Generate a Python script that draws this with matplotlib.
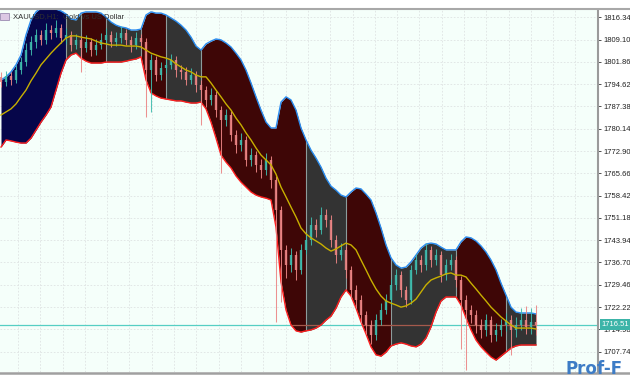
import numpy as np
import matplotlib
matplotlib.use("Agg")
import matplotlib.pyplot as plt
from matplotlib.path import Path
from matplotlib.patches import Rectangle
from matplotlib.lines import Line2D

# XAUUSD H1 candles
opens = [1797.0, 1795.3, 1797.3, 1796.0, 1799.2, 1801.8, 1805.7, 1808.3, 1810.6, 1809.0,
         1812.2, 1811.2, 1812.9, 1809.6, 1810.6, 1807.3, 1809.0, 1806.4, 1808.3, 1805.7,
         1807.3, 1809.0, 1810.6, 1808.3, 1809.6, 1811.2, 1809.0, 1807.3, 1809.6, 1808.3,
         1799.2, 1802.5, 1797.6, 1799.9, 1800.9, 1802.5, 1799.2, 1798.6, 1796.0, 1797.6,
         1794.4, 1792.7, 1789.5, 1791.1, 1786.2, 1783.0, 1784.6, 1778.1, 1774.9, 1776.5,
         1770.0, 1771.6, 1768.4, 1766.7, 1770.0, 1763.5, 1753.8, 1740.8, 1735.9, 1739.1,
         1734.3, 1740.8, 1744.0, 1748.9, 1747.3, 1752.1, 1750.5, 1744.0, 1739.1, 1740.8,
         1734.3, 1727.8, 1724.5, 1719.6, 1716.4, 1713.2, 1718.0, 1721.3, 1724.5, 1729.4,
         1732.6, 1727.8, 1724.5, 1734.3, 1737.5, 1735.9, 1740.8, 1737.5, 1739.1, 1732.6,
         1735.9, 1737.5, 1731.0, 1724.5, 1721.3, 1719.6, 1716.4, 1714.8, 1718.0, 1713.2,
         1714.8, 1716.4, 1718.0, 1714.8, 1716.4, 1718.0, 1715.8, 1717.4]
highs = [1798.5, 1799.0, 1798.6, 1800.8, 1803.5, 1807.9, 1810.4, 1812.7, 1812.1, 1814.6,
         1814.0, 1815.3, 1814.2, 1812.8, 1811.9, 1810.8, 1810.2, 1810.5, 1809.6, 1809.2,
         1811.3, 1812.9, 1811.8, 1811.5, 1813.4, 1812.5, 1810.4, 1811.6, 1810.9, 1809.5,
         1804.3, 1803.8, 1801.9, 1803.0, 1804.4, 1803.7, 1801.0, 1800.1, 1799.8, 1798.9,
         1795.9, 1794.0, 1793.4, 1792.3, 1787.6, 1786.5, 1785.9, 1779.6, 1778.7, 1777.8,
         1773.9, 1773.0, 1770.2, 1772.3, 1771.3, 1764.8, 1755.1, 1742.4, 1741.3, 1740.5,
         1742.6, 1746.2, 1751.5, 1750.7, 1754.8, 1754.0, 1752.0, 1745.5, 1743.0, 1742.0,
         1735.7, 1729.4, 1726.0, 1721.1, 1717.9, 1719.9, 1723.4, 1726.6, 1731.3, 1734.7,
         1734.0, 1729.2, 1736.0, 1739.6, 1739.2, 1742.9, 1742.1, 1741.2, 1740.4, 1737.8,
         1739.4, 1738.9, 1732.4, 1726.0, 1723.0, 1721.2, 1718.2, 1720.1, 1719.4, 1716.9,
         1718.5, 1720.4, 1719.5, 1719.0, 1721.8, 1722.5, 1722.0, 1722.9]
lows = [1793.8, 1794.0, 1794.2, 1795.1, 1797.9, 1800.6, 1804.2, 1806.5, 1807.2, 1807.8,
        1809.4, 1810.1, 1807.9, 1807.7, 1805.4, 1805.9, 1798.6, 1805.0, 1803.9, 1804.1,
        1806.0, 1807.6, 1806.6, 1806.9, 1808.0, 1807.3, 1805.2, 1806.1, 1806.4, 1784.0,
        1785.5, 1795.5, 1796.0, 1798.2, 1799.5, 1797.1, 1796.4, 1794.2, 1794.6, 1792.2,
        1781.5, 1787.2, 1787.8, 1784.0, 1765.8, 1780.9, 1776.0, 1772.4, 1773.0, 1767.9,
        1768.1, 1766.0, 1764.2, 1765.1, 1760.9, 1717.4, 1724.0, 1731.5, 1733.7, 1730.9,
        1732.8, 1739.3, 1742.5, 1745.1, 1745.9, 1748.2, 1741.8, 1736.6, 1737.4, 1731.8,
        1725.1, 1722.0, 1717.2, 1713.5, 1710.2, 1711.5, 1716.4, 1719.9, 1723.0, 1727.8,
        1725.5, 1722.3, 1723.1, 1732.8, 1733.7, 1734.4, 1735.3, 1735.9, 1730.4, 1731.0,
        1734.1, 1728.7, 1708.5, 1701.8, 1717.0, 1713.8, 1712.1, 1712.9, 1710.8, 1711.2,
        1712.9, 1714.6, 1706.5, 1712.6, 1714.9, 1713.6, 1713.4, 1713.2]
closes = [1795.3, 1797.3, 1796.0, 1799.2, 1801.8, 1805.7, 1808.3, 1810.6, 1809.0, 1812.2,
          1811.2, 1812.9, 1809.6, 1810.6, 1807.3, 1809.0, 1806.4, 1808.3, 1805.7, 1807.3,
          1809.0, 1810.6, 1808.3, 1809.6, 1811.2, 1809.0, 1807.3, 1809.6, 1808.3, 1799.2,
          1802.5, 1797.6, 1799.9, 1800.9, 1802.5, 1799.2, 1798.6, 1796.0, 1797.6, 1794.4,
          1792.7, 1789.5, 1791.1, 1786.2, 1783.0, 1784.6, 1778.1, 1774.9, 1776.5, 1770.0,
          1771.6, 1768.4, 1766.7, 1770.0, 1763.5, 1753.8, 1740.8, 1735.9, 1739.1, 1734.3,
          1740.8, 1744.0, 1748.9, 1747.3, 1752.1, 1750.5, 1744.0, 1739.1, 1740.8, 1734.3,
          1727.8, 1724.5, 1719.6, 1716.4, 1713.2, 1718.0, 1721.3, 1724.5, 1729.4, 1732.6,
          1727.8, 1724.5, 1734.3, 1737.5, 1735.9, 1740.8, 1737.5, 1739.1, 1732.6, 1735.9,
          1737.5, 1731.0, 1724.5, 1721.3, 1719.6, 1716.4, 1714.8, 1718.0, 1713.2, 1714.8,
          1716.4, 1718.0, 1714.8, 1716.4, 1718.0, 1715.8, 1717.4, 1716.5]

# channel indicator: upper / lower band and middle line
upper = [1796.0, 1797.0, 1798.6, 1800.9, 1804.1, 1810.6, 1815.5, 1818.1, 1819.4, 1820.0,
         1819.7, 1819.0, 1818.4, 1817.4, 1815.8, 1815.5, 1817.7, 1818.1, 1818.1, 1818.1,
         1817.7, 1816.4, 1814.8, 1813.8, 1813.2, 1812.9, 1812.2, 1812.2, 1812.5, 1817.1,
         1818.1, 1817.7, 1817.7, 1817.1, 1816.1, 1815.1, 1813.8, 1812.2, 1809.9, 1807.0,
         1805.7, 1807.7, 1808.6, 1809.3, 1809.0, 1808.0, 1806.7, 1804.7, 1802.5, 1799.2,
         1795.0, 1790.5, 1786.2, 1782.3, 1780.4, 1780.4, 1788.8, 1790.5, 1789.5, 1786.2,
         1780.4, 1776.5, 1773.2, 1770.6, 1767.7, 1764.1, 1761.5, 1760.2, 1758.6, 1758.0,
         1759.6, 1760.9, 1760.6, 1758.9, 1757.0, 1752.8, 1747.9, 1742.4, 1738.2, 1735.9,
         1734.9, 1735.2, 1736.9, 1739.1, 1741.4, 1742.7, 1743.0, 1742.7, 1741.7, 1740.8,
         1740.8, 1740.8, 1743.4, 1745.0, 1744.7, 1743.7, 1742.1, 1740.1, 1737.5, 1734.3,
         1730.0, 1726.1, 1722.2, 1720.6, 1720.3, 1720.3, 1720.3, 1720.0]
lower = [1774.2, 1776.5, 1776.2, 1775.8, 1775.5, 1775.5, 1777.1, 1779.7, 1782.3, 1784.6,
         1787.2, 1792.7, 1798.2, 1802.5, 1804.1, 1804.7, 1803.1, 1802.1, 1801.5, 1801.5,
         1801.5, 1801.8, 1801.8, 1801.8, 1801.8, 1802.1, 1802.5, 1802.8, 1803.5, 1796.0,
         1791.8, 1790.8, 1790.1, 1789.8, 1789.5, 1789.2, 1789.2, 1788.8, 1788.5, 1788.5,
         1788.8, 1786.6, 1782.3, 1777.1, 1771.6, 1769.3, 1767.4, 1764.8, 1762.8, 1761.2,
         1759.6, 1758.6, 1758.0, 1757.6, 1757.0, 1748.2, 1730.4, 1721.3, 1716.4, 1714.5,
         1714.1, 1714.5, 1714.8, 1715.4, 1716.4, 1718.0, 1719.3, 1721.9, 1725.5, 1727.8,
         1725.8, 1721.9, 1717.4, 1713.5, 1709.3, 1706.7, 1706.3, 1707.6, 1709.6, 1710.2,
         1710.6, 1710.2, 1709.6, 1709.3, 1710.2, 1712.2, 1715.8, 1720.6, 1724.2, 1725.5,
         1725.5, 1725.5, 1722.9, 1718.7, 1714.8, 1711.5, 1709.3, 1707.6, 1706.0, 1705.0,
         1706.3, 1707.6, 1708.9, 1709.6, 1709.9, 1709.9, 1709.9, 1709.9]
middle = [1784.6, 1785.6, 1786.6, 1788.2, 1790.5, 1792.7, 1795.7, 1798.2, 1800.9, 1802.8,
          1804.7, 1806.4, 1808.0, 1809.6, 1810.3, 1810.3, 1809.9, 1809.6, 1809.3, 1808.6,
          1808.0, 1807.7, 1807.3, 1807.3, 1807.3, 1807.0, 1807.0, 1807.0, 1806.7, 1805.7,
          1804.7, 1804.1, 1803.5, 1803.1, 1802.5, 1801.2, 1800.2, 1799.2, 1798.6, 1797.6,
          1797.0, 1797.0, 1795.0, 1792.7, 1790.5, 1788.2, 1786.2, 1783.6, 1781.4, 1778.8,
          1776.5, 1773.9, 1771.6, 1770.0, 1768.4, 1765.4, 1761.2, 1758.0, 1754.7, 1751.5,
          1747.9, 1746.0, 1744.7, 1743.7, 1742.7, 1741.4, 1740.4, 1741.1, 1742.1, 1743.0,
          1742.4, 1740.8, 1737.5, 1734.3, 1731.0, 1728.1, 1725.8, 1724.2, 1723.5, 1722.9,
          1722.2, 1722.6, 1723.5, 1724.8, 1727.1, 1729.4, 1731.0, 1731.7, 1732.3, 1733.0,
          1733.3, 1732.6, 1732.6, 1732.0, 1730.0, 1728.1, 1726.1, 1724.2, 1722.2, 1720.6,
          1719.0, 1717.7, 1716.4, 1715.4, 1715.4, 1715.4, 1715.4, 1715.1]

# band segments (bar index where each segment starts/ends) and their state
seg_edges = [0, 13, 16, 21, 28, 33, 40, 61, 69, 78, 91, 101, 107]
seg_kinds = ["up", "flat", "down", "flat", "down", "flat",
             "down", "flat", "down", "flat", "down", "flat"]

price_ticks = [1816.34, 1809.10, 1801.86, 1794.62, 1787.38, 1780.14, 1772.90, 1765.66,
               1758.42, 1751.18, 1743.94, 1736.70, 1729.46, 1722.22, 1714.98, 1707.74]
last_price = 1716.51
chart_title = "XAUUSD,H1:  Gold vs US Dollar"

kind_colors = {"up": "#06064a", "down": "#3e0606", "flat": "#333333"}

x = np.arange(len(closes))
o = np.array(opens)
h = np.array(highs)
l = np.array(lows)
c = np.array(closes)
up_b = np.array(upper)
lo_b = np.array(lower)

fig = plt.figure(figsize=(6.3, 3.8), dpi=100)
ax = fig.add_axes([0, 8 / 380, 598 / 630, 362 / 380])
ax.set_facecolor("#f5fffa")

ax.set_xlim(-0.2, 119.4)
ax.set_ylim(1701.13, 1818.71)

# dashed grid
for gx in np.arange(3.4, 119.4, 4.46):
    ax.axvline(gx, color="#dfe3e3", lw=0.6, ls=(0, (2, 2)), zorder=0)
for gy in price_ticks:
    ax.axhline(gy, color="#dfe3e3", lw=0.6, ls=(0, (2, 2)), zorder=0)

# current price line
ax.axhline(last_price, color="#56cfc3", lw=0.9, zorder=1)

# filled channel, coloured by segment
for i, kind in enumerate(seg_kinds):
    a, b = seg_edges[i], seg_edges[i + 1] + 1
    ax.fill_between(x[a:b], lo_b[a:b], up_b[a:b], color=kind_colors[kind],
                    lw=0, zorder=2)
inner = seg_edges[1:-1]
ax.vlines(x[inner], lo_b[inner], up_b[inner], color="#8c9c9c", lw=0.8, zorder=2.2)

# price line seen through the channel
band_path = Path(np.vstack([np.column_stack([x, up_b]),
                            np.column_stack([x[::-1], lo_b[::-1]])]))
through = ax.axhline(last_price, color="#a45a4c", lw=0.9, zorder=2.3)
through.set_clip_path(band_path, ax.transData)

ax.plot(x, up_b, color="#2a8cf0", lw=1.0, zorder=2.5)
ax.plot(x, lo_b, color="#ff1f1f", lw=1.0, zorder=2.5)

# candles
bull = c >= o
cols = np.where(bull, "#3fbcae", "#ec8585")
ax.vlines(x, l, h, colors=cols, lw=0.75, alpha=0.9, zorder=3)
ax.vlines(x, np.minimum(o, c), np.maximum(o, c), colors=cols, lw=1.7, alpha=0.9, zorder=3)

ax.plot(x, middle, color="#c8b000", lw=1.0, zorder=4)

# axes styling
ax.yaxis.tick_right()
ax.set_yticks(price_ticks)
ax.set_yticklabels([f"{v:.2f}" for v in price_ticks])
ax.tick_params(axis="y", direction="out", length=2.5, width=0.6, pad=1.5,
               labelsize=5.5, labelcolor="#222222", color="#333333")
for lab in ax.get_yticklabels():
    lab.set_fontfamily("Liberation Sans")
ax.set_xticks([])
for side in ["left", "top", "bottom"]:
    ax.spines[side].set_visible(False)
ax.spines["right"].set_color("#9a9a9a")
ax.spines["right"].set_linewidth(1.5)

# window frame lines
fig.add_artist(Line2D([0, 1], [1 - 9 / 380, 1 - 9 / 380], color="#a8a8a8", lw=1.5))
fig.add_artist(Line2D([0, 1], [7 / 380, 7 / 380], color="#a0a0a0", lw=1.8))

# title with symbol icon
ax.add_patch(Rectangle((0.0, 0.972), 0.015, 0.019, transform=ax.transAxes,
                       facecolor="#dcc8e4", edgecolor="#8c7aa6", lw=0.5, zorder=6))
ax.text(0.022, 0.981, chart_title, transform=ax.transAxes, fontsize=5.5,
        family="Liberation Sans", color="#303030", va="center", ha="left", zorder=6)

# current price tag
ax.text(1.006, last_price, f"{last_price:.2f}", transform=ax.get_yaxis_transform(),
        fontsize=5.5, family="Liberation Sans", color="white", va="center", ha="left",
        bbox=dict(boxstyle="square,pad=0.25", facecolor="#3cb4a8", edgecolor="none"),
        clip_on=False, zorder=7)

# watermark
fig.text(0.897, 0.004, "Prof-F", fontsize=12, fontweight="bold", color="#3d7cc6",
         ha="left", va="bottom", family="DejaVu Sans", zorder=10)

fig.savefig("out.png", dpi=100)
plt.close(fig)
